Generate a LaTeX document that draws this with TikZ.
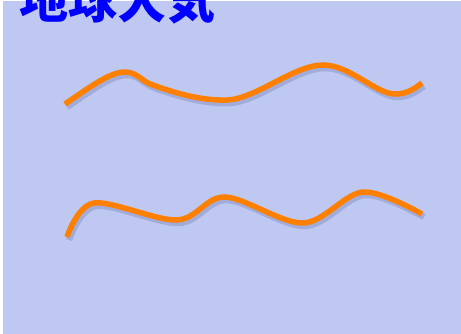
\documentclass[tikz,border=0pt]{standalone}
\usepackage{fontspec}
\newfontfamily\cjk{Noto Sans CJK JP}
\definecolor{bgblue}{RGB}{190,200,241}
\definecolor{wave}{RGB}{255,128,0}
\definecolor{shade}{RGB}{120,130,185}
\definecolor{titleblue}{RGB}{0,0,255}
\begin{document}
\begin{tikzpicture}[x=1pt,y=-1pt,
  wavestyle/.style={draw=wave,line width=5.5pt,line cap=butt},
  shadowstyle/.style={draw=shade,line width=6.5pt,opacity=0.4},
  title/.style={font=\cjk\bfseries\fontsize{49}{49}\selectfont,text=titleblue,inner sep=0pt,anchor=base west},
  waveone/.pic={\draw[#1] (65,104) .. controls (90,87) and (110,72) .. (125,72)
      .. controls (136,72) and (141,80) .. (150,84)
      .. controls (172,92) and (200,101) .. (227,100)
      .. controls (256,99) and (294,65) .. (323,65)
      .. controls (350,65) and (376,94) .. (395,94)
      .. controls (408,94) and (415,88) .. (422,83);},
  wavetwo/.pic={\draw[#1] plot[smooth,tension=0.55] coordinates {(67,237) (94,203) (177,220) (225,197) (303,223) (363,192) (422,214)};}]
\useasboundingbox (0,0) rectangle (461,334);
\clip (0,0) rectangle (461,334);
\fill[white] (0,0) rectangle (461,334);
\fill[bgblue] (3,1) rectangle (461,334);
\node[title] (t) at (19,19) {地球大気};
% shadows
\pic at (2,3) {waveone=shadowstyle};
\pic at (2,3) {wavetwo=shadowstyle};
% waves
\pic at (0,0) {waveone=wavestyle};
\pic at (0,0) {wavetwo=wavestyle};
\end{tikzpicture}
\end{document}
